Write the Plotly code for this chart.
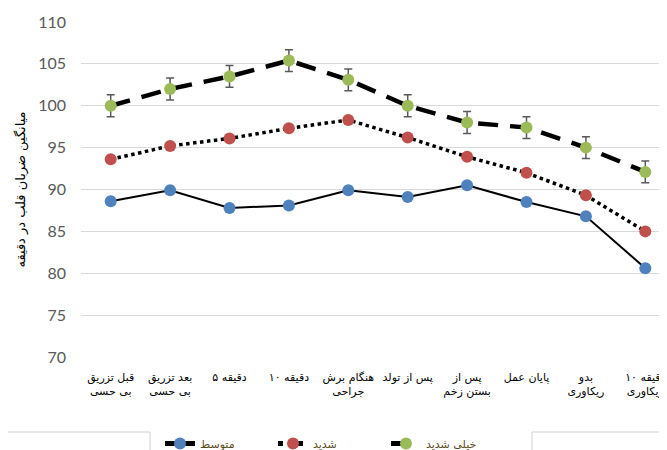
import plotly.graph_objects as go

categories = [
    "قبل تزریق<br>بی حسی",
    "بعد تزریق<br>بی حسی",
    "دقیقه ۵",
    "دقیقه ۱۰",
    "هنگام برش<br>جراحی",
    "پس از تولد",
    "پس از<br>بستن زخم",
    "پایان عمل",
    "بدو<br>ریکاوری",
    "دقیقه ۱۰<br>ریکاوری",
]
moderate = [88.6, 89.9, 87.8, 88.1, 89.9, 89.1, 90.5, 88.5, 86.8, 80.6]
severe = [93.6, 95.2, 96.1, 97.3, 98.3, 96.2, 93.9, 92.0, 89.3, 85.0]
very_severe = [100.0, 102.0, 103.5, 105.4, 103.1, 100.0, 98.0, 97.4, 95.0, 92.1]
very_severe_err = [1.3, 1.3, 1.3, 1.3, 1.3, 1.3, 1.3, 1.3, 1.3, 1.3]
series_names = ["متوسط", "شدید", "خیلی شدید"]
y_ticks = [70, 75, 80, 85, 90, 95, 100, 105, 110]

x = list(range(len(categories)))

# page offset of the figure (browser body margin) is 8px
L, T, B = 73, 14, 101
PW, PH = 667 - L, 450 - T - B


def px_x(page_x):
    return (page_x - 8 - L) / PW


def px_y(page_y):
    return ((450 - B) - (page_y - 8)) / PH


fig = go.Figure()
fig.add_trace(go.Scatter(
    x=x, y=moderate, name=series_names[0], mode="lines+markers",
    line=dict(color="black", width=2),
    marker=dict(color="#4f81bd", size=12),
))
fig.add_trace(go.Scatter(
    x=x, y=severe, name=series_names[1], mode="lines+markers",
    line=dict(color="black", width=3.5, dash="dot"),
    marker=dict(color="#c0504d", size=12),
))
fig.add_trace(go.Scatter(
    x=x, y=very_severe, name=series_names[2], mode="lines+markers",
    line=dict(color="black", width=4.5, dash="20px,12px"),
    marker=dict(color="#9bbb59", size=12),
    error_y=dict(type="data", array=very_severe_err, color="#595959",
                 thickness=1.5, width=4),
))

box_line = dict(color="#d0d0d0", width=1)
fig.update_layout(
    width=667, height=450,
    margin=dict(l=L, r=0, t=T, b=B),
    paper_bgcolor="white", plot_bgcolor="white",
    font=dict(family="DejaVu Sans", color="black"),
    showlegend=True,
    legend=dict(
        orientation="h", x=px_x(160), xanchor="left", y=px_y(458), yanchor="bottom",
        font=dict(size=11, color="#5a4a1a", family="DejaVu Sans"),
        entrywidth=68, entrywidthmode="pixels",
        bgcolor="rgba(0,0,0,0)", itemsizing="constant",
        tracegroupgap=0,
    ),
    xaxis=dict(
        range=[-0.5, 9.5], tickmode="array", tickvals=x, ticktext=categories,
        showgrid=False, zeroline=False, showline=False, ticks="",
        tickangle=0, automargin=False,
        tickfont=dict(size=11, color="black", family="DejaVu Sans"),
        ticklabelstandoff=12,
    ),
    yaxis=dict(
        range=[70, 110], tickvals=y_ticks, showgrid=True, gridcolor="#d9d9d9",
        gridwidth=1.3, zeroline=False, showline=False, ticks="",
        automargin=False,
        tickfont=dict(size=16, color="#595959", family="Lato"),
        ticklabelstandoff=14,
        title=dict(text="میانگین ضربان قلب در دقیقه", standoff=9,
                   font=dict(size=13, color="black", family="DejaVu Sans")),
    ),
    shapes=[
        dict(type="line", xref="paper", yref="paper", x0=px_x(0), x1=px_x(150),
             y0=px_y(432), y1=px_y(432), line=box_line),
        dict(type="line", xref="paper", yref="paper", x0=px_x(150), x1=px_x(150),
             y0=px_y(432), y1=px_y(460), line=box_line),
        dict(type="line", xref="paper", yref="paper", x0=px_x(532), x1=px_x(680),
             y0=px_y(432), y1=px_y(432), line=box_line),
        dict(type="line", xref="paper", yref="paper", x0=px_x(532), x1=px_x(532),
             y0=px_y(432), y1=px_y(460), line=box_line),
    ],
)

fig.write_html("out.html")
